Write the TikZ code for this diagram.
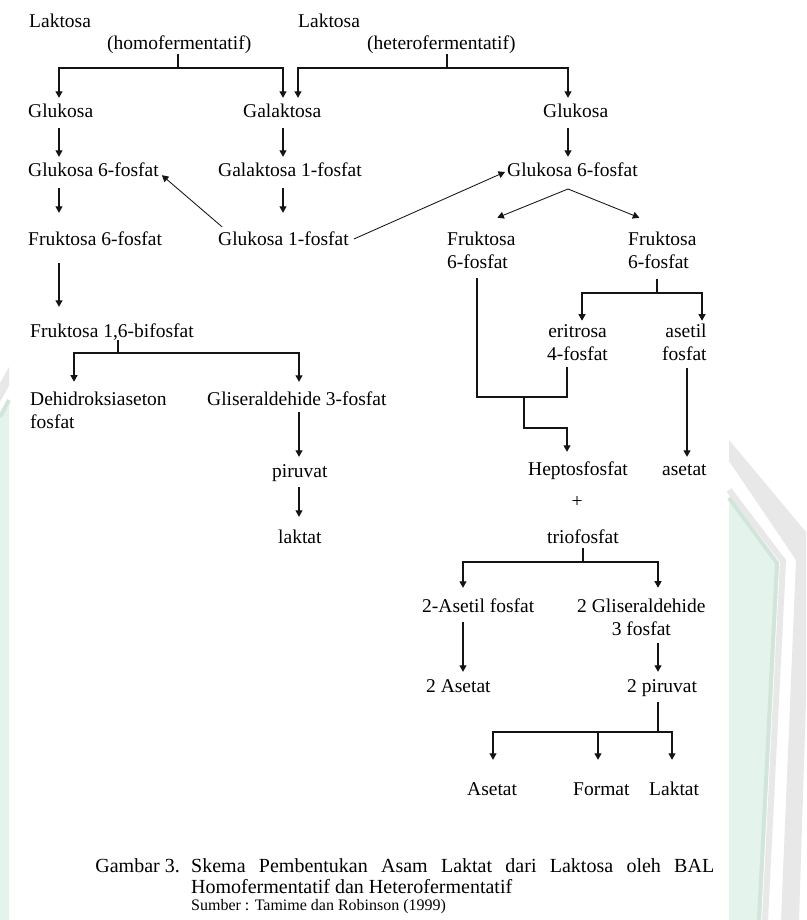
\documentclass[tikz,border=0pt]{standalone}
\usepackage{fontspec}
\setmainfont{Liberation Serif}
\newfontfamily\capfont{Liberation Serif}
\usetikzlibrary{arrows.meta}
% two-line label set in a top-aligned tabular, so the node baseline is the first line
\newcommand\twol[3]{\begin{tabular}[t]{@{}#1@{}}#2\\#3\end{tabular}}
\definecolor{wmgray}{HTML}{E8E8E8}
\definecolor{wmgreen}{HTML}{E4F3EC}
\definecolor{wmline}{HTML}{D2E5DA}
\begin{document}
\begin{tikzpicture}[x=1pt,y=-1pt,
  lbl/.style={anchor=base west, inner sep=0pt, text height=13pt, text depth=3pt,
              font=\fontsize{19.5}{23}\selectfont},
  lbl2/.style={anchor=base west, inner sep=0pt, font=\fontsize{19.5}{23}\selectfont},
  conn/.style={line width=1.1pt, draw=black!92},
  arr/.style={conn, -{Triangle[length=6.5pt,width=7pt]}},
  thinln/.style={line width=0.85pt},
  captxt/.style={anchor=base west, inner sep=0pt, font=\capfont\fontsize{20}{22}\selectfont},
  srctxt/.style={anchor=base west, inner sep=0pt, font=\capfont\fontsize{16}{18}\selectfont},
]
\useasboundingbox (0,0) rectangle (806,920);
\fill[white] (0,0) rectangle (806,920);

% ---- faint logo watermark showing at the page edges ----
\fill[wmgray] (729,440) -- (806,532) -- (806,700) -- (799,920) -- (781,920)
              -- (796,560) -- (729,461) -- cycle;
\fill[wmgreen] (729,497) -- (779,563) -- (761,920) -- (729,920) -- cycle;
\draw[wmgray, line width=6pt] (729,490) -- (783,561) -- (765,920);
\draw[wmline, line width=4pt] (729,498) -- (777,563) -- (759,920);
\fill[wmgray] (0,383) -- (9,367) -- (9,386) -- (0,402) -- cycle;
\fill[wmgreen] (0,418) -- (9,402) -- (9,920) -- (0,920) -- cycle;
\draw[wmline, line width=4pt] (0,417) -- (9,400);

% ---- column positions of the vertical connectors ----
\coordinate (cL) at (59,0);
\coordinate (cG) at (283,0);
\coordinate (cG2) at (298,0);
\coordinate (cR) at (568,0);
\coordinate (cF) at (477,0);
\coordinate (cE) at (567,0);
\coordinate (cE2) at (582,0);
\coordinate (cA) at (702,0);
\coordinate (cA3) at (687,0);
\coordinate (cD) at (74,0);
\coordinate (cG3) at (299,0);
\coordinate (cS) at (463,0);
\coordinate (cP) at (658,0);
\coordinate (cX1) at (493,0);
\coordinate (cX2) at (598,0);
\coordinate (cX3) at (672,0);

% ---- labels ----
\node[lbl] (lakA) at (29,28) {Laktosa};
\node[lbl] (homo) at (107,50) {(homofermentatif)};
\node[lbl] (lakB) at (298,28) {Laktosa};
\node[lbl] (hetero) at (367,50) {(heterofermentatif)};
\node[lbl] (gluL) at (28,118) {Glukosa};
\node[lbl] (gal) at (243,118) {Galaktosa};
\node[lbl] (gluR) at (543,118) {Glukosa};
\node[lbl] (g6pL) at (28,176) {Glukosa 6-fosfat};
\node[lbl] (gal1p) at (218,176) {Galaktosa 1-fosfat};
\node[lbl] (g6pR) at (507,176) {Glukosa 6-fosfat};
\node[lbl] (f6pL) at (28,245) {Fruktosa 6-fosfat};
\node[lbl] (g1p) at (218,245) {Glukosa 1-fosfat};
\node[lbl2] (f6pA) at (447,245) {\twol{l}{Fruktosa}{6-fosfat}};
\node[lbl2] (f6pB) at (628,245) {\twol{l}{Fruktosa}{6-fosfat}};
\node[lbl] (f16) at (30,337) {Fruktosa 1,6-bifosfat};
\node[lbl2] (eri) at (547,337) {\twol{c}{eritrosa}{4-fosfat}};
\node[lbl2] (asf1) at (662,337) {\twol{r}{asetil}{fosfat}};
\node[lbl2] (dhap) at (30,405) {\twol{l}{Dehidroksiaseton}{fosfat}};
\node[lbl] (gap) at (207,405) {Gliseraldehide 3-fosfat};
\node[lbl] (pir) at (272,477) {piruvat};
\node[lbl] (hep) at (528,475) {Heptosfosfat};
\node[lbl] (aset1) at (662,475) {asetat};
\node[lbl, anchor=base] (plus) at (577,507) {+};
\node[lbl] (lak) at (278,543) {laktat};
\node[lbl] (trio) at (547,543) {triofosfat};
\node[lbl] (asf2) at (422,612) {2-Asetil fosfat};
\node[lbl2] (gap2) at (577,612) {\twol{c}{2 Gliseraldehide}{3 fosfat}};
\node[lbl] (ase2) at (426,692) {2 Asetat};
\node[lbl] (pir2) at (627,692) {2 piruvat};
\node[lbl] (aset) at (467,795) {Asetat};
\node[lbl] (fmt) at (573,795) {Format};
\node[lbl] (lakt) at (649,795) {Laktat};

% ---- homofermentative branch from lactose ----
\coordinate (jH) at (178,68);
\draw[conn, shorten <=1pt] (homo.south -| jH) -- (jH);
\draw[arr, shorten >=7pt] (jH) -| (gluL.north -| cL);
\draw[arr, shorten >=7pt] (jH) -| (gal.north -| cG);

% ---- heterofermentative branch from lactose ----
\coordinate (jE) at (447,68);
\draw[conn, shorten <=1pt] (hetero.south -| jE) -- (jE);
\draw[arr, shorten >=7pt] (jE) -| (gal.north -| cG2);
\draw[arr, shorten >=7pt] (jE) -| (gluR.north -| cR);

% ---- straight steps ----
\draw[arr, shorten <=7pt, shorten >=6pt] (gluL.south -| cL) -- (g6pL.north -| cL);
\draw[arr, shorten <=7pt, shorten >=6pt] (gal.south -| cG) -- (gal1p.north -| cG);
\draw[arr, shorten <=7pt, shorten >=6pt] (gluR.south -| cR) -- (g6pR.north -| cR);
\draw[arr, shorten <=9pt, shorten >=19pt] (g6pL.south -| cL) -- (f6pL.north -| cL);
\draw[arr, shorten <=9pt, shorten >=19pt] (gal1p.south -| cG) -- (g1p.north -| cG);
\draw[arr, shorten <=15pt, shorten >=17pt] (f6pL.south -| cL) -- (f16.north -| cL);

% ---- glucose 1-phosphate to both glucose 6-phosphates ----
\draw[arr, thinln] ([xshift=4pt,yshift=5pt]g1p.north west) -- ([xshift=3pt,yshift=4pt]g6pL.south east);
\draw[arr, thinln] ([xshift=5pt,yshift=1pt]g1p.east) -- ([xshift=-2pt,yshift=-1pt]g6pR.west);

% ---- glucose 6-phosphate splits into two fructose 6-phosphates ----
\coordinate (jG) at (568,189);
\draw[arr, thinln] (jG) -- ([xshift=16pt,yshift=11pt]f6pA.north);
\draw[arr, thinln] (jG) -- ([xshift=-23pt,yshift=11pt]f6pB.north);

% ---- fructose 6-phosphate + erythrose 4-phosphate to heptose phosphate ----
\coordinate (jM) at (524,397);
\coordinate (jM2) at (524,428);
\draw[conn, shorten <=3pt] (f6pA.south -| cF) |- (jM -| cE) -- (eri.south -| cE);
\draw[arr, shorten >=10pt] (jM) -- (jM2) -| (hep.north -| cE);

% ---- fructose 6-phosphate to erythrose 4-phosphate and acetyl phosphate ----
\coordinate (jB) at (657,293);
\draw[conn, shorten <=4pt] (f6pB.south -| jB) -- (jB);
\draw[arr] (jB) -| (eri.north -| cE2);
\draw[arr] (jB) -| (asf1.north -| cA);
\draw[arr, shorten <=1pt, shorten >=5pt] (asf1.south -| cA3) -- (aset1.north -| cA3);

% ---- fructose 1,6-bisphosphate split ----
\coordinate (jF) at (118,353);
\draw[conn] (f16.south -| jF) -- (jF);
\draw[arr, shorten >=7pt] (jF) -| (dhap.north -| cD);
\draw[arr, shorten >=10pt] (jF) -| (gap.north -| cG3);
\draw[arr, shorten <=4pt, shorten >=7pt] (gap.south -| cG3) -- (pir.north -| cG3);
\draw[arr, shorten <=7pt, shorten >=13pt] (pir.south -| cG3) -- (lak.north -| cG3);

% ---- triose phosphate split ----
\coordinate (jT) at (583,562);
\draw[conn, shorten <=2pt] (trio.south -| jT) -- (jT);
\draw[arr, shorten >=11pt] (jT) -| (asf2.north -| cS);
\draw[arr, shorten >=8pt] (jT) -| (gap2.north -| cP);
\draw[arr, shorten <=7pt, shorten >=7pt] (asf2.south -| cS) -- (ase2.north -| cS);
\draw[arr, shorten <=1pt, shorten >=7pt] (gap2.south -| cP) -- (pir2.north -| cP);

% ---- pyruvate end products ----
\coordinate (jP) at (658,732);
\draw[conn, shorten <=7pt] (pir2.south -| cP) -- (jP);
\draw[arr, shorten >=22pt] (jP) -| (aset.north -| cX1);
\draw[arr, shorten >=22pt] (jP) -| (fmt.north -| cX2);
\draw[arr, shorten >=22pt] (jP) -| (lakt.north -| cX3);

% ---- caption ----
\node[captxt, anchor=base east] (gbr) at (180,872) {Gambar 3.};
\node[captxt] (cap1) at (191,872) {\makebox[523pt][s]{Skema Pembentukan Asam Laktat dari Laktosa oleh BAL}};
\node[captxt] (cap2) at (191,893) {Homofermentatif dan Heterofermentatif};
\node[srctxt] (srcl) at (191,910) {Sumber : Tamime dan Robinson (1999)};
\end{tikzpicture}
\end{document}
